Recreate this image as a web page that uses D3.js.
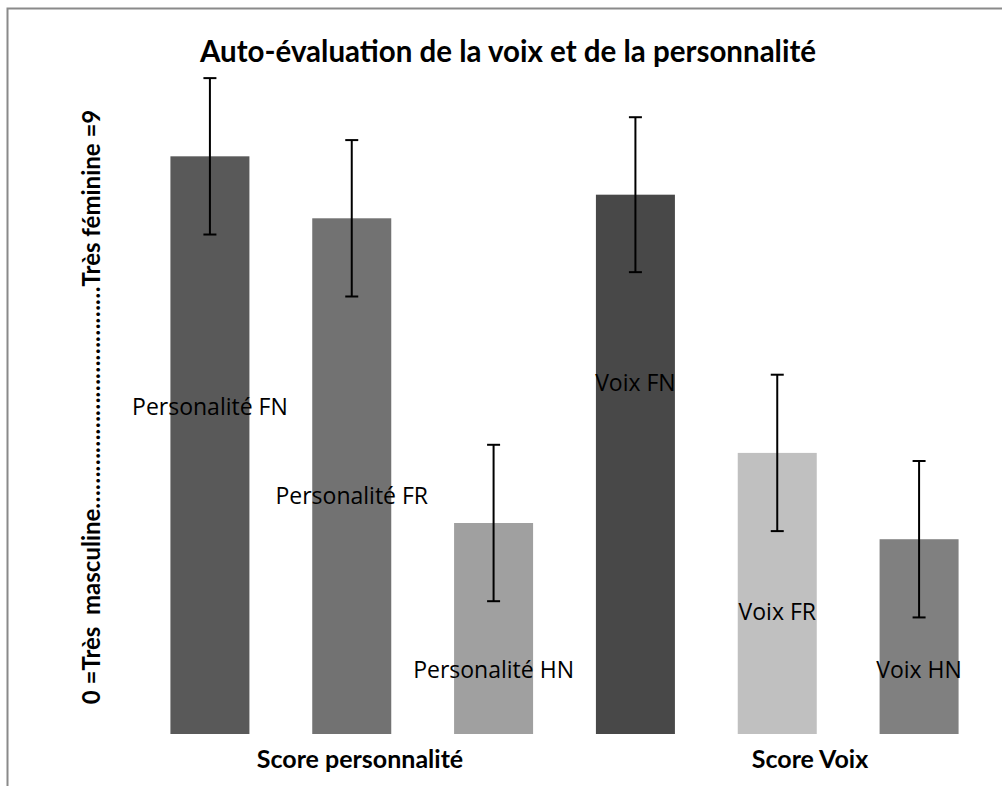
<!DOCTYPE html>
<html lang="fr">
<head>
<meta charset="UTF-8">
<title>Auto-évaluation de la voix et de la personnalité</title>
<script src="https://d3js.org/d3.v7.min.js"></script>
<style>
    body { margin: 0; background: #fff; }
    .title { font-family: Lato, sans-serif; font-weight: bold; font-size: 29.5px; }
    .axis-title { font-family: Lato, sans-serif; font-weight: bold; font-size: 24px; white-space: pre; }
    .group-label { font-family: Lato, sans-serif; font-weight: bold; font-size: 25px; }
    .bar-label { font-family: "Open Sans", sans-serif; font-size: 23px; }
</style>
</head>
<body>
<svg id="chart" width="1002" height="786"></svg>
<script>
// values (scale 0 = très masculine ... 9 = très féminine)
var barNames = ["Personalité FN", "Personalité FR", "Personalité HN", "Voix FN", "Voix FR", "Voix HN"];
var barValues = [7.83, 6.99, 2.86, 7.31, 3.81, 2.64];
var barErrors = [1.06, 1.06, 1.06, 1.05, 1.06, 1.06];
var labelValues = [4.43, 3.23, 0.87, 4.76, 1.65, 0.87]; // where each data label sits
var groupLabels = ["Score personnalité", "Score Voix"];
var yDomain = [0, 9];

var width = 1002, height = 786;
var svg = d3.select("#chart");

// chart frame (only top and left edges are visible in the picture)
svg.append("rect")
    .attr("x", 7.5).attr("y", 8.5)
    .attr("width", 1200).attr("height", 1000)
    .attr("fill", "none")
    .attr("stroke", "#8a8a8a")
    .attr("stroke-width", 2);

var x = d3.scaleBand()
    .domain(barNames)
    .range([139, 990])
    .paddingInner(0.443)
    .paddingOuter(0.2215);

var y = d3.scaleLinear()
    .domain(yDomain)
    .range([734, 70]);

var color = d3.scaleOrdinal()
    .domain(barNames)
    .range(["#595959", "#727272", "#a0a0a0", "#484848", "#c0c0c0", "#808080"]);

var gx = d3.scalePoint()
    .domain(groupLabels)
    .range([360, 810]);

var data = barNames.map(function (name, i) {
    return { name: name, value: barValues[i], err: barErrors[i], labelAt: labelValues[i] };
});

// bars
svg.selectAll(".bar")
    .data(data)
    .enter()
    .append("rect")
    .attr("class", "bar")
    .attr("x", function (d) { return x(d.name); })
    .attr("y", function (d) { return y(d.value); })
    .attr("width", x.bandwidth())
    .attr("height", function (d) { return y(0) - y(d.value); })
    .attr("fill", function (d) { return color(d.name); });

// error bars
var capHalf = 6.5;
var err = svg.selectAll(".err")
    .data(data)
    .enter()
    .append("g")
    .attr("class", "err")
    .attr("stroke", "#000")
    .attr("stroke-width", 2);

err.append("line")
    .attr("x1", function (d) { return x(d.name) + x.bandwidth() / 2; })
    .attr("x2", function (d) { return x(d.name) + x.bandwidth() / 2; })
    .attr("y1", function (d) { return y(d.value + d.err); })
    .attr("y2", function (d) { return y(d.value - d.err); });

err.append("line")
    .attr("x1", function (d) { return x(d.name) + x.bandwidth() / 2 - capHalf; })
    .attr("x2", function (d) { return x(d.name) + x.bandwidth() / 2 + capHalf; })
    .attr("y1", function (d) { return y(d.value + d.err); })
    .attr("y2", function (d) { return y(d.value + d.err); });

err.append("line")
    .attr("x1", function (d) { return x(d.name) + x.bandwidth() / 2 - capHalf; })
    .attr("x2", function (d) { return x(d.name) + x.bandwidth() / 2 + capHalf; })
    .attr("y1", function (d) { return y(d.value - d.err); })
    .attr("y2", function (d) { return y(d.value - d.err); });

// data labels
svg.selectAll(".bar-label")
    .data(data)
    .enter()
    .append("text")
    .attr("class", "bar-label")
    .attr("x", function (d) { return x(d.name) + x.bandwidth() / 2; })
    .attr("y", function (d) { return y(d.labelAt); })
    .attr("dy", "0.35em")
    .attr("text-anchor", "middle")
    .text(function (d) { return d.name; });

// category labels
svg.selectAll(".group-label")
    .data(groupLabels)
    .enter()
    .append("text")
    .attr("class", "group-label")
    .attr("x", function (d) { return gx(d); })
    .attr("y", 768)
    .attr("text-anchor", "middle")
    .text(function (d) { return d; });

// title
svg.append("text")
    .attr("class", "title")
    .attr("x", 508)
    .attr("y", 62)
    .attr("text-anchor", "middle")
    .text("Auto-évaluation de la voix et de la personnalité");

// y axis title
svg.append("text")
    .attr("class", "axis-title")
    .attr("transform", "translate(100,407) rotate(-90)")
    .attr("text-anchor", "middle")
    .text("0 =Très  masculine" + "…".repeat(12) + "Très féminine =9");
</script>
</body>
</html>
